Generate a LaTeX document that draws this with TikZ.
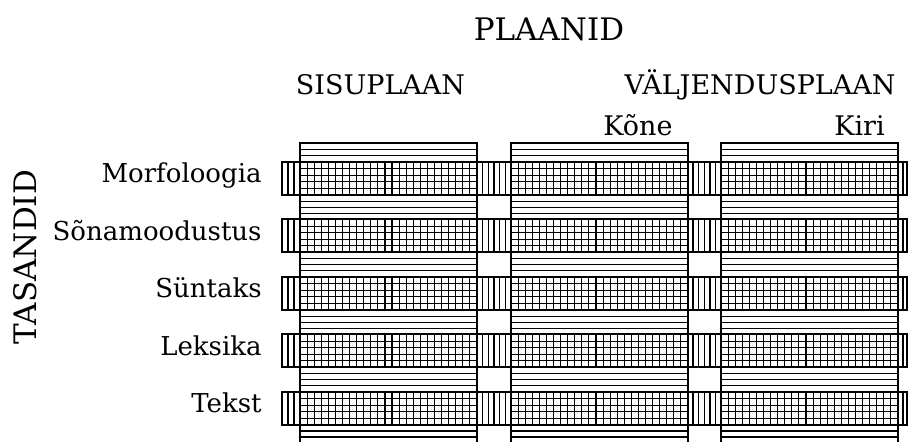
\documentclass[tikz,border=0pt]{standalone}
\usepackage{fontspec}
\setmainfont{DejaVu Serif}
\begin{document}
\begin{tikzpicture}[x=0.5pt,y=-0.5pt,
    hatch/.style={line width=0.55pt},
    rim/.style={line width=1pt},
    level/.style={font=\fontsize{13}{15}\selectfont, inner sep=0pt, anchor=base east},
    plane/.style={font=\fontsize{13.5}{16}\selectfont, inner sep=0pt, anchor=base},
    head/.style={font=\fontsize{15.5}{18}\selectfont, inner sep=0pt}]
\useasboundingbox (0,0) rectangle (909,442);

% columns (planes): horizontal hatching
\foreach \x in {300,511,721}{
  \foreach \y in {149.3,155.6,431,437}
    \draw[hatch] (\x,\y) -- ++(177,0);
  \foreach \i in {0,...,4}{
    \pgfmathsetmacro{\t}{162+57.5*\i}
    \foreach \k in {1,...,4}
      \draw[hatch] (\x,\t+6.6*\k) -- ++(177,0);
  }
  \foreach \i in {0,...,3}{
    \pgfmathsetmacro{\b}{195+57.5*\i}
    \foreach \k in {1,...,3}
      \draw[hatch] (\x,\b+6.1*\k) -- ++(177,0);
  }
}

% rows (levels): vertical hatching
\foreach \i in {0,...,4}{
  \pgfmathsetmacro{\t}{162+57.5*\i}
  \foreach \x in {288,294,482.7,488.3,494,499.7,505.3,693,698.7,704.3,710,715.7,903}
    \draw[hatch] (\x,\t) -- ++(0,33);
  \foreach \c in {300,511,721}
    \foreach \k in {1,...,24}
      \draw[hatch] (\c+7.08*\k,\t) -- ++(0,33);
  \draw[rim] (282,\t) rectangle (907,\t+33);
}

% column edges
\foreach \x in {300,511,721}{
  \draw[rim] (\x,442) |- (\x+177,143) -- (\x+177,442);
}

% labels
\node[head] (plaanid) at (549,29) {PLAANID};
\node[plane] (sisu) at (380.5,95) {SISUPLAAN};
\node[plane] (valj) at (760,95) {VÄLJENDUSPLAAN};
\node[plane] (kone) at (638,136) {Kõne};
\node[plane] (kiri) at (859.5,136) {Kiri};
\node[head, rotate=90] (tasandid) at (25,257) {TASANDID};

\node[level] (morf) at (262,183) {Morfoloogia};
\node[level] (sona) at (262,240.5) {Sõnamoodustus};
\node[level] (synt) at (262,298) {Süntaks};
\node[level] (leks) at (262,355.5) {Leksika};
\node[level] (tekst) at (262,413) {Tekst};
\end{tikzpicture}
\end{document}
